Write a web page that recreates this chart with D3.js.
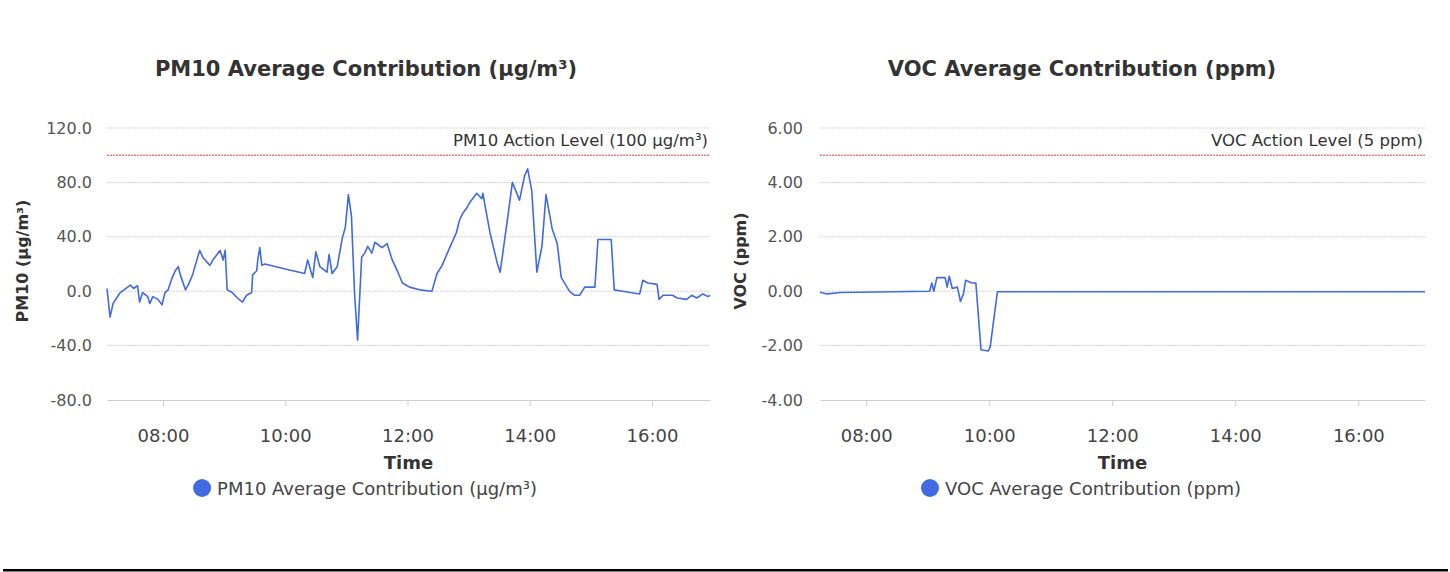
<!DOCTYPE html>
<html>
<head>
<meta charset="utf-8">
<script src="https://cdn.jsdelivr.net/npm/d3@7"></script>
<style>
  body { margin: 0; background: #fff; }
  svg { display: block; font-family: "DejaVu Sans", sans-serif; }
</style>
</head>
<body>
<svg id="chart" width="1450" height="572"></svg>
<script>
// PM10 readings [time, µg/m³]
const pm10Series = [
    ["07:05", 2], ["07:08", -19], ["07:11", -9], ["07:18", -1], ["07:28", 4.5], ["07:31", 2],
    ["07:35", 4], ["07:37", -8], ["07:40", -1], ["07:45", -4], ["07:47", -9], ["07:50", -4],
    ["07:55", -6], ["07:59", -10], ["08:02", -1], ["08:05", 1], ["08:09", 10], ["08:12", 15],
    ["08:15", 18], ["08:17", 12], ["08:22", 1], ["08:25", 5], ["08:29", 12], ["08:36", 30],
    ["08:39", 25], ["08:46", 19], ["08:49", 23], ["08:56", 30], ["08:59", 23], ["09:01", 30],
    ["09:03", 1], ["09:08", -1], ["09:13", -5], ["09:18", -8], ["09:22", -3], ["09:27", -1],
    ["09:28", 12], ["09:32", 15], ["09:33", 23], ["09:35", 32], ["09:37", 19], ["09:40", 20],
    ["10:02", 16], ["10:19", 13], ["10:22", 23], ["10:27", 10], ["10:30", 29], ["10:34", 18],
    ["10:41", 14], ["10:43", 27], ["10:46", 13], ["10:51", 18], ["10:56", 39], ["10:59", 47],
    ["11:02", 71], ["11:05", 55], ["11:08", -1], ["11:11", -36], ["11:15", 25], ["11:18", 28],
    ["11:21", 33], ["11:25", 28], ["11:28", 36], ["11:35", 32], ["11:40", 35], ["11:45", 23],
    ["11:50", 15], ["11:55", 6], ["12:02", 3], ["12:12", 1], ["12:24", 0], ["12:29", 13],
    ["12:34", 19], ["12:42", 33], ["12:48", 43], ["12:51", 52], ["12:54", 57], ["12:58", 61],
    ["13:01", 65], ["13:08", 72], ["13:13", 68], ["13:14", 72], ["13:21", 43], ["13:28", 21],
    ["13:31", 14], ["13:38", 52], ["13:43", 80], ["13:50", 67], ["13:55", 85], ["13:58", 90],
    ["14:02", 74], ["14:07", 14], ["14:12", 33], ["14:16", 71], ["14:22", 46], ["14:27", 35],
    ["14:31", 10], ["14:39", 0], ["14:44", -3], ["14:49", -3], ["14:54", 3], ["15:04", 3],
    ["15:07", 38], ["15:12", 38], ["15:20", 38], ["15:23", 1], ["15:31", 0], ["15:48", -2],
    ["15:51", 8], ["15:56", 6], ["16:05", 5], ["16:07", -6], ["16:11", -3], ["16:20", -3],
    ["16:25", -5], ["16:34", -6], ["16:39", -3], ["16:44", -5], ["16:50", -2], ["16:55", -4],
    ["16:57", -3]
];

// VOC readings [time, ppm]
const vocSeries = [
    ["07:15", -0.04], ["07:22", -0.1], ["07:35", -0.05], ["09:02", 0], ["09:04", 0.3],
    ["09:06", 0], ["09:09", 0.5], ["09:17", 0.5], ["09:19", 0.15], ["09:21", 0.55],
    ["09:24", 0.1], ["09:29", 0.15], ["09:32", -0.38], ["09:35", -0.08], ["09:37", 0.4],
    ["09:43", 0.3], ["09:47", 0.3], ["09:52", -2.15], ["09:59", -2.2], ["10:01", -2.05],
    ["10:08", -0.02], ["17:05", -0.02]
];

const timeTicks = ["08:00", "10:00", "12:00", "14:00", "16:00"];
const pm10Ticks = [-80, -40, 0, 40, 80, 120];
const vocTicks = [-4, -2, 0, 2, 4, 6];
const pm10Domain = ["07:05", "16:57"];
const vocDomain = ["07:15", "17:05"];

const parseTime = d3.timeParse("%Y-%m-%d %H:%M");
const toDate = t => parseTime("2024-01-01 " + t);
const locale = d3.formatLocale({ decimal: ".", thousands: ",", grouping: [3], currency: ["", ""], minus: "-" });

const svg = d3.select("#chart");
svg.append("rect").attr("width", 1450).attr("height", 572).attr("fill", "#fff");

function drawChart(opts) {
    const g = svg.append("g");
    const x = d3.scaleTime()
        .domain(opts.domain.map(toDate))
        .range([opts.left, opts.right]);
    const y = d3.scaleLinear()
        .domain([opts.yTicks[0], opts.yTicks[opts.yTicks.length - 1]])
        .range([400, 128]);

    // title
    g.append("text")
        .attr("x", opts.center).attr("y", 69)
        .attr("text-anchor", "middle").attr("dominant-baseline", "central")
        .attr("font-size", 21).attr("font-weight", "bold").attr("fill", "#333")
        .text(opts.title);

    // grid lines
    g.selectAll(".grid")
        .data(opts.yTicks.slice(1))
        .enter().append("line")
        .attr("x1", opts.left).attr("x2", opts.right)
        .attr("y1", d => y(d)).attr("y2", d => y(d))
        .attr("stroke", "#d2d2d2").attr("stroke-width", 1)
        .attr("stroke-dasharray", "2,1");

    // y axis
    const yAxis = g.append("g")
        .attr("transform", `translate(${opts.left},0)`)
        .call(d3.axisLeft(y).tickValues(opts.yTicks).tickFormat(locale.format(opts.fmt)).tickSize(0).tickPadding(opts.pad));
    yAxis.select(".domain").remove();
    yAxis.selectAll("text").attr("font-size", 16).attr("fill", "#555").attr("font-family", "DejaVu Sans");

    // x axis
    const xAxis = g.append("g")
        .attr("transform", "translate(0,400)")
        .call(d3.axisBottom(x).tickValues(timeTicks.map(toDate)).tickFormat(d3.timeFormat("%H:%M")).tickSizeOuter(0).tickSizeInner(6).tickPadding(23));
    xAxis.select(".domain").attr("stroke", "#ccc");
    xAxis.selectAll(".tick line").attr("stroke", "#ccc");
    xAxis.selectAll("text").attr("font-size", 18).attr("fill", "#444").attr("font-family", "DejaVu Sans");

    // action level
    g.append("line")
        .attr("x1", opts.left).attr("x2", opts.right)
        .attr("y1", y(opts.action)).attr("y2", y(opts.action))
        .attr("stroke", "#ee3333").attr("stroke-width", 1)
        .attr("stroke-dasharray", "2,1");
    g.append("text")
        .attr("x", opts.right - 2).attr("y", y(opts.action) - 9)
        .attr("text-anchor", "end")
        .attr("font-size", 16.5).attr("fill", "#333")
        .text(opts.actionLabel);

    // data line
    g.append("path")
        .datum(opts.series)
        .attr("fill", "none")
        .attr("stroke", "#4169e1")
        .attr("stroke-width", 1.6)
        .attr("stroke-linejoin", "round")
        .attr("d", d3.line().x(d => x(toDate(d[0]))).y(d => y(d[1])));

    // axis titles
    g.append("text")
        .attr("transform", `translate(${opts.yLabelX},261) rotate(-90)`)
        .attr("text-anchor", "middle").attr("dominant-baseline", "central")
        .attr("font-size", 16).attr("font-weight", "bold").attr("fill", "#333")
        .text(opts.yLabel);
    g.append("text")
        .attr("x", (opts.left + opts.right) / 2).attr("y", 462)
        .attr("text-anchor", "middle").attr("dominant-baseline", "central")
        .attr("font-size", 18).attr("font-weight", "bold").attr("fill", "#333")
        .text("Time");

    // legend
    const leg = g.append("g");
    const legText = leg.append("text")
        .attr("y", 488).attr("dominant-baseline", "central")
        .attr("font-size", 18).attr("fill", "#444")
        .text(opts.title);
    const w = legText.node().getComputedTextLength();
    const start = opts.center - (w + 24) / 2;
    leg.append("circle").attr("cx", start + 8).attr("cy", 488).attr("r", 9).attr("fill", "#4169e1");
    legText.attr("x", start + 23);
}

drawChart({
    title: "PM10 Average Contribution (µg/m³)",
    yLabel: "PM10 (µg/m³)",
    actionLabel: "PM10 Action Level (100 µg/m³)",
    action: 100,
    series: pm10Series,
    domain: pm10Domain,
    yTicks: pm10Ticks,
    fmt: ".1f",
    left: 107, right: 710, center: 366, yLabelX: 22, pad: 15
});

drawChart({
    title: "VOC Average Contribution (ppm)",
    yLabel: "VOC (ppm)",
    actionLabel: "VOC Action Level (5 ppm)",
    action: 5,
    series: vocSeries,
    domain: vocDomain,
    yTicks: vocTicks,
    fmt: ".2f",
    left: 820, right: 1425, center: 1082, yLabelX: 740, pad: 17
});

// bottom rule
svg.append("rect").attr("x", 3).attr("y", 569).attr("width", 1445).attr("height", 2.5).attr("fill", "#000");
</script>
</body>
</html>
